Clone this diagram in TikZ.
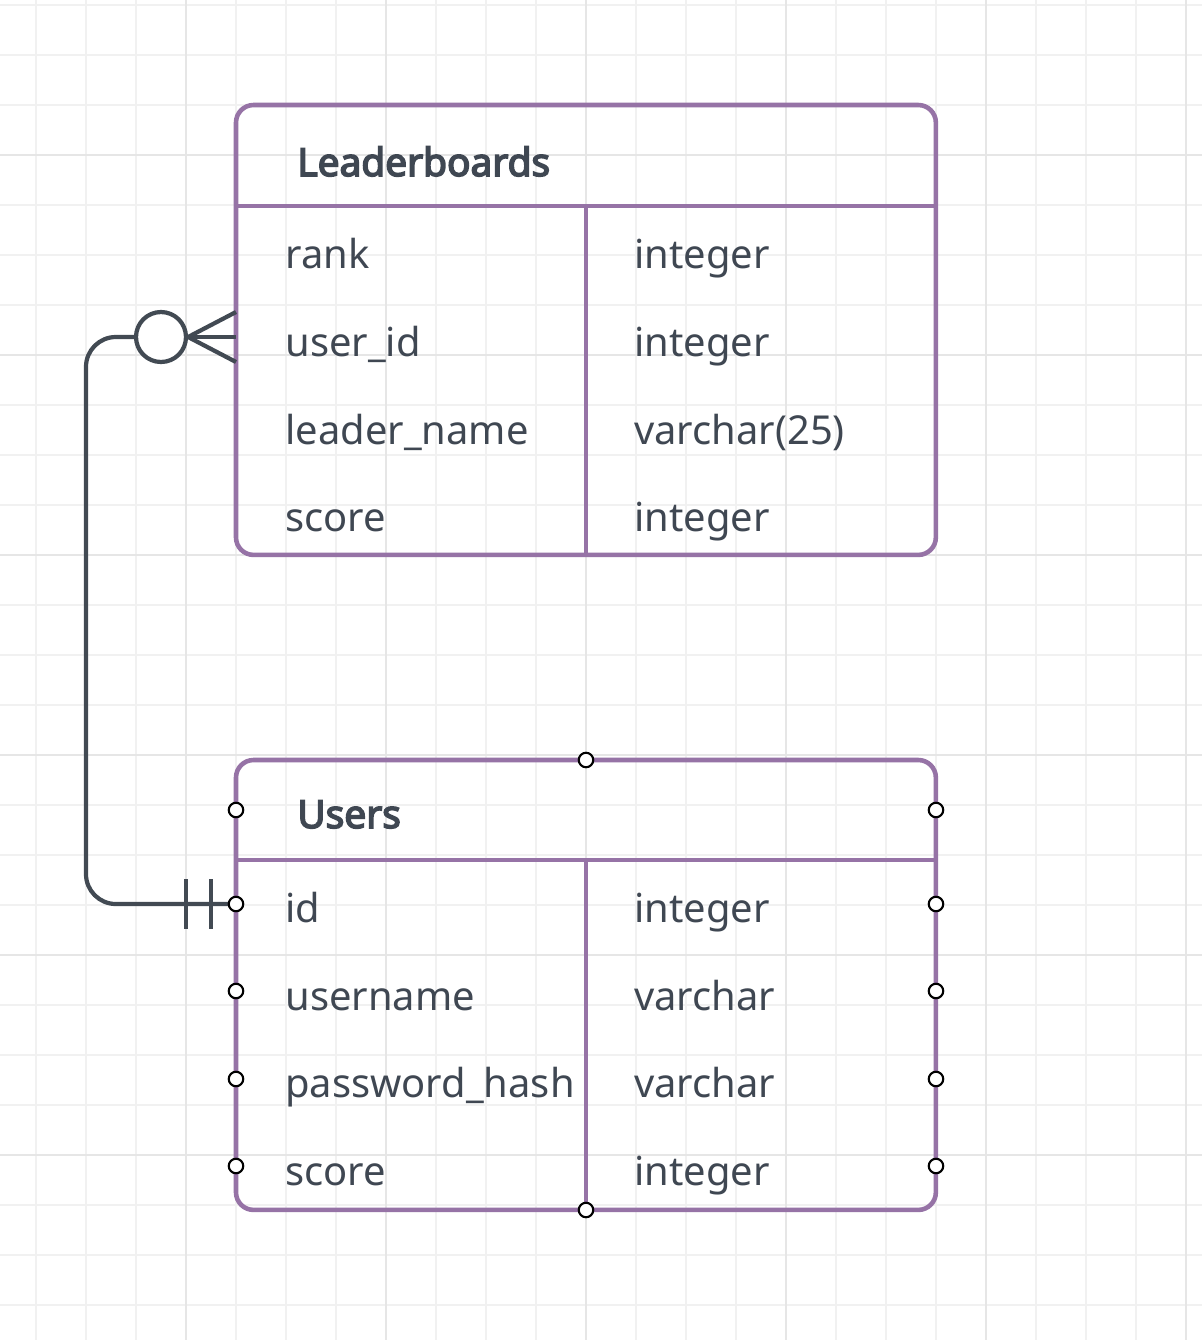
\documentclass[tikz,border=0pt]{standalone}
\usepackage{fontspec}
\setmainfont{Noto Sans}
\newfontfamily\titlefont{Noto Sans}[FakeBold=4]
\usetikzlibrary{positioning}
\definecolor{tblpurple}{HTML}{9673A6}
\definecolor{txtgray}{HTML}{3F4752}
\definecolor{linkgray}{HTML}{424A53}
\definecolor{gridminor}{HTML}{F1F1F1}
\definecolor{gridmajor}{HTML}{E6E6E6}
\begin{document}
\begin{tikzpicture}[x=0.02cm,y=-0.02cm,
    frame/.style={draw=tblpurple, line width=2.6pt, rounded corners=10pt, inner sep=0pt, outer sep=0pt,
        minimum width=14cm, minimum height=9cm, anchor=north west},
    rule/.style={draw=tblpurple, line width=2.6pt},
    title/.style={anchor=base west, inner sep=0pt, text=txtgray, font=\titlefont\fontsize{22.1}{25}\selectfont},
    field/.style={anchor=base west, inner sep=0pt, text=txtgray, font=\fontsize{22.7}{26}\selectfont},
    link/.style={draw=linkgray, line width=2.4pt},
    ring/.style={circle, draw=linkgray, line width=2.4pt, fill=white, minimum size=1cm, inner sep=0pt},
    port/.style={circle, draw=black, line width=1.2pt, fill=white, minimum size=0.29cm, inner sep=0pt}]
    % canvas and grid
    \useasboundingbox (0,0) rectangle (1202,1340);
    \fill[white] (0,0) rectangle (1202,1340);
    \foreach \gx in {36,86,...,1200} \draw[gridminor, line width=0.6pt] (\gx,0) -- (\gx,1340);
    \foreach \gy in {5,55,...,1340} \draw[gridminor, line width=0.6pt] (0,\gy) -- (1202,\gy);
    \foreach \gx in {186,386,...,1200} \draw[gridmajor, line width=0.6pt] (\gx,0) -- (\gx,1340);
    \foreach \gy in {155,355,...,1340} \draw[gridmajor, line width=0.6pt] (0,\gy) -- (1202,\gy);

    % Leaderboards table
    \node[frame] (lb) at (236,105) {};
    \draw[rule] (236,206) -- (936,206);
    \draw[rule] (586,206) -- (586,555);
    \node[title] (lbtitle) at (297,176) {Leaderboards};
    \node[field] (lbrank) at (285,268) {rank};
    \node[field] (lbuid) at (285,356) {user\_id};
    \node[field] (lbname) at (285,444) {leader\_name};
    \node[field] (lbscore) at (285,531) {score};
    \node[field] (lbranktype) at (634,268) {integer};
    \node[field] (lbuidtype) at (634,356) {integer};
    \node[field] (lbnametype) at (634,444) {varchar(25)};
    \node[field] (lbscoretype) at (634,531) {integer};

    % Users table
    \node[frame] (us) at (236,760) {};
    \draw[rule] (236,860) -- (936,860);
    \draw[rule] (586,860) -- (586,1210);
    \node[title] (ustitle) at (297,828) {Users};
    \node[field] (usid) at (285,922) {id};
    \node[field] (usname) at (285,1010) {username};
    \node[field] (uspass) at (285,1097) {password\_hash};
    \node[field] (usscore) at (285,1185) {score};
    \node[field] (usidtype) at (634,922) {integer};
    \node[field] (usnametype) at (634,1010) {varchar};
    \node[field] (uspasstype) at (634,1097) {varchar};
    \node[field] (usscoretype) at (634,1185) {integer};

    % relation: zero-or-many to exactly one
    \coordinate (footup) at (236,312);
    \coordinate (footmid) at (236,337);
    \coordinate (footdown) at (236,362);
    \coordinate (idend) at (236,904);
    \node[ring] (ring) at (161,337) {};
    \draw[link] (ring.east) -- (footup);
    \draw[link] (ring.east) -- (footmid);
    \draw[link] (ring.east) -- (footdown);
    \draw[link, rounded corners=17pt] (ring.west) -- (86,337) -- (86,904) -- (idend);
    \draw[link] (186,879) -- (186,929);
    \draw[link] (211,879) -- (211,929);

    % connection points
    \foreach \px/\py [count=\pi] in {586/760, 236/810, 936/810, 236/904, 936/904, 236/991,
        936/991, 236/1079, 936/1079, 236/1166, 936/1166, 586/1210}
        \node[port] (port\pi) at (\px,\py) {};
\end{tikzpicture}
\end{document}
